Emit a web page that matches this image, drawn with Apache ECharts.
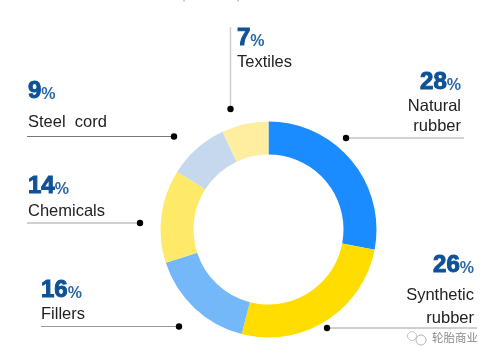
<!DOCTYPE html>
<html><head><meta charset="utf-8">
<style>html,body{margin:0;padding:0;background:#fff}#c{width:499px;height:360px}</style>
<script src="https://cdn.jsdelivr.net/npm/echarts@6/dist/echarts.min.js"></script>
</head><body><div id="c"></div>
<script>
const categories = ["Natural rubber","Synthetic rubber","Fillers","Chemicals","Steel cord","Textiles"];
const shares = [28,26,16,14,9,7];
const colours = ["#1A8CFF","#FFDD00","#74B8FA","#FFE968","#C5D8EE","#FFEEA0"];
const labelLines = [["Natural","rubber"],["Synthetic","rubber"],["Fillers"],["Chemicals"],["Steel  cord"],["Textiles"]];
// callout layout: align, percent anchor [x, baseline], text line anchors, line [x1,y1,x2,y2], dot at (x2,y2)
const callouts = [
 {align:"right",pct:[461,89],text:[[461,111],[461,131]],line:[464,138,346,138],lc:"#a8a8a8",lw:1},
 {align:"right",pct:[474,272],text:[[474,300],[474,323]],line:[477,328,327,328],lc:"#a0a0a0",lw:1},
 {align:"left",pct:[41,297],text:[[41,319]],line:[41,326.5,179,326.5],lc:"#999",lw:1},
 {align:"left",pct:[28,193],text:[[28,216]],line:[27,223,140,223],lc:"#d0d0d0",lw:2},
 {align:"left",pct:[28,98],text:[[28,127]],line:[27,136.5,174,136.5],lc:"#777",lw:1},
 {align:"left",pct:[237,45],text:[[237,67]],line:[230.5,27,230.5,109],lc:"#cfcfcf",lw:1.5}
];
const font = '"Liberation Sans", Arial, sans-serif';
const g = [];
callouts.forEach((c,i)=>{
  g.push({type:"line",shape:{x1:c.line[0],y1:c.line[1],x2:c.line[2],y2:c.line[3]},style:{stroke:c.lc,lineWidth:c.lw}});
  g.push({type:"circle",shape:{cx:c.line[2],cy:c.line[3],r:3.2},style:{fill:"#000"}});
  g.push({type:"text",x:c.pct[0],y:c.pct[1]+5,style:{
    text:"{n|"+shares[i]+"}{p|%}",align:c.align,verticalAlign:"bottom",
    rich:{n:{fontFamily:font,fontWeight:"bold",fontSize:24,fill:"#0F5196",stroke:"#0F5196",lineWidth:1,verticalAlign:"bottom",lineHeight:22},
          p:{fontFamily:font,fontWeight:"bold",fontSize:16,fill:"#2A67A8",verticalAlign:"bottom",lineHeight:18}}}});
  labelLines[i].forEach((t,j)=>g.push({type:"text",x:c.text[j][0],y:c.text[j][1]+4,style:{
    text:t,align:c.align,verticalAlign:"bottom",fontFamily:font,fontSize:16.5,fill:"#222"}}));
});
// clipped remains of the title at the top edge
[184,238].forEach(x=>g.push({type:"line",shape:{x1:x,y1:0,x2:x,y2:1.5},style:{stroke:"#999",lineWidth:1}}));
// watermark
g.push({type:"circle",shape:{cx:412,cy:336,r:4.5},style:{fill:"#fff",stroke:"#c4c4c4",lineWidth:1}});
g.push({type:"circle",shape:{cx:421,cy:340,r:5},style:{fill:"#fff",stroke:"#b4b4b4",lineWidth:1}});
g.push({type:"text",x:432,y:338,style:{text:"轮胎商业",align:"left",verticalAlign:"middle",fontFamily:'"Noto Sans CJK SC"',fontSize:11.5,fill:"#8a8a8a"}});
const chart = echarts.init(document.getElementById("c"),null,{renderer:"canvas"});
chart.setOption({
  animation:false,backgroundColor:"#fff",
  series:[{type:"pie",center:[268.5,229.5],radius:[75,108],startAngle:90,clockwise:true,silent:true,
    label:{show:false},labelLine:{show:false},
    data:categories.map((n,i)=>({name:n,value:shares[i],itemStyle:{color:colours[i]}}))}],
  graphic:g
});
</script></body></html>
